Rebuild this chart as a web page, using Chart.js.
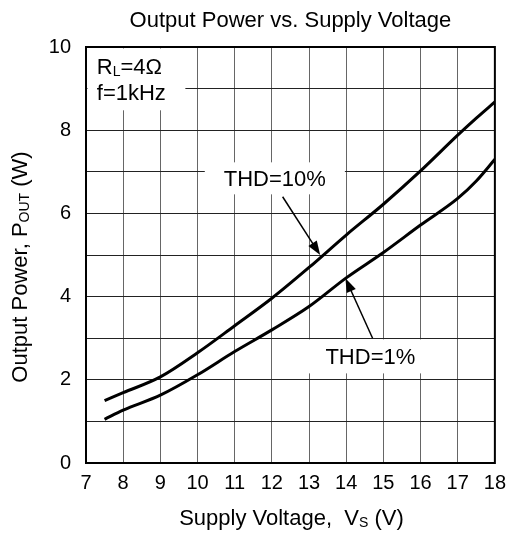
<!DOCTYPE html>
<html>
<head>
<meta charset="utf-8">
<script src="https://cdn.jsdelivr.net/npm/chart.js@4.4.0/dist/chart.umd.min.js"></script>
<style>
html, body { margin: 0; padding: 0; background: #fff; }
canvas { display: block; }
</style>
</head>
<body>
<canvas id="grafico" width="514" height="536"></canvas>
<script>
// Datos (Vs en V, Pout en W)
const voltaje = [7.5, 8, 9, 10, 11, 12, 13, 14, 15, 16, 17, 17.5, 18];
const potenciaThd10 = [1.5, 1.69, 2.07, 2.65, 3.3, 3.96, 4.7, 5.48, 6.22, 7.02, 7.88, 8.29, 8.68];
const potenciaThd1 = [1.05, 1.27, 1.63, 2.12, 2.68, 3.2, 3.76, 4.45, 5.06, 5.72, 6.36, 6.78, 7.3];
const ticksY = [0, 2, 4, 6, 8, 10];

const FUENTE = '"Liberation Sans", Arial, Helvetica, sans-serif';

// Escribe texto con subindices: partes = [[texto, esSubindice], ...]
function textoRico(ctx, partes, x, y, size, align) {
    const sub = Math.round(size * 0.62);
    const ancho = medir(ctx, partes, size);
    let cx = align === 'center' ? x - ancho / 2 : x;
    ctx.textAlign = 'left';
    ctx.textBaseline = 'alphabetic';
    partes.forEach(([t, s]) => {
        ctx.font = (s ? sub : size) + 'px ' + FUENTE;
        ctx.fillText(t, cx, s ? y + 2 : y);
        cx += ctx.measureText(t).width;
    });
}

function medir(ctx, partes, size) {
    const sub = Math.round(size * 0.62);
    let ancho = 0;
    partes.forEach(([t, s]) => {
        ctx.font = (s ? sub : size) + 'px ' + FUENTE;
        ancho += ctx.measureText(t).width;
    });
    return ancho;
}

function flecha(ctx, x1, y1, x2, y2) {
    const ang = Math.atan2(y2 - y1, x2 - x1);
    const largo = 14, medio = 5;
    ctx.strokeStyle = '#000';
    ctx.fillStyle = '#000';
    ctx.lineWidth = 1.5;
    ctx.beginPath();
    ctx.moveTo(x1, y1);
    ctx.lineTo(x2 - Math.cos(ang) * largo * 0.8, y2 - Math.sin(ang) * largo * 0.8);
    ctx.stroke();
    ctx.beginPath();
    ctx.moveTo(x2, y2);
    ctx.lineTo(x2 - Math.cos(ang) * largo - Math.sin(ang) * medio, y2 - Math.sin(ang) * largo + Math.cos(ang) * medio);
    ctx.lineTo(x2 - Math.cos(ang) * largo + Math.sin(ang) * medio, y2 - Math.sin(ang) * largo - Math.cos(ang) * medio);
    ctx.closePath();
    ctx.fill();
}

const TAM = 22;
const subCap = TAM * 0.358; // de medio de mayuscula a linea base

const anotaciones = {
    id: 'anotaciones',
    beforeDatasetsDraw(chart) {
        const { ctx, chartArea: a, scales: { x, y } } = chart;
        ctx.save();

        // Etiqueta RL / f (esquina superior izquierda)
        const rl = [['R', false], ['L', true], ['=4Ω', false]];
        const fr = [['f=1kHz', false]];
        const bx = x.getPixelForValue(7.29);
        const b1 = y.getPixelForValue(9.53) + subCap;
        const b2 = y.getPixelForValue(8.92) + subCap;
        const anchoRL = Math.max(medir(ctx, rl, TAM), medir(ctx, fr, TAM));
        ctx.fillStyle = '#fff';
        ctx.fillRect(a.left + 1.5, a.top + 1.5, bx + anchoRL + 18 - a.left, b2 + 9 - a.top);

        // Etiqueta THD=10%
        const t10 = [['THD=10%', false]];
        const c10x = x.getPixelForValue(12.08);
        const c10y = y.getPixelForValue(6.84) + subCap;
        const w10 = medir(ctx, t10, TAM);
        ctx.fillStyle = '#fff';
        ctx.fillRect(c10x - w10 / 2 - 19, c10y - 24, w10 + 38, 32);

        // Etiqueta THD=1%
        const t1 = [['THD=1%', false]];
        const c1x = x.getPixelForValue(14.65);
        const c1y = y.getPixelForValue(2.56) + subCap;
        const w1 = medir(ctx, t1, TAM);
        ctx.fillStyle = '#fff';
        ctx.fillRect(c1x - w1 / 2 - 19, c1y - 25, w1 + 38, 34);

        ctx.fillStyle = '#000';
        textoRico(ctx, rl, bx, b1, TAM, 'left');
        textoRico(ctx, fr, bx, b2, TAM, 'left');
        textoRico(ctx, t10, c10x, c10y, TAM, 'center');
        textoRico(ctx, t1, c1x, c1y, TAM, 'center');

        // Marco del area de trazado
        ctx.strokeStyle = '#000';
        ctx.lineWidth = 2;
        ctx.strokeRect(a.left, a.top, a.right - a.left, a.bottom - a.top);
        ctx.restore();
    },
    afterDatasetsDraw(chart) {
        const { ctx, scales: { x, y } } = chart;
        ctx.save();
        flecha(ctx, x.getPixelForValue(12.29), y.getPixelForValue(6.4),
                    x.getPixelForValue(13.3), y.getPixelForValue(5.0));
        flecha(ctx, x.getPixelForValue(14.71), y.getPixelForValue(3.0),
                    x.getPixelForValue(13.98), y.getPixelForValue(4.44));
        ctx.restore();
    },
    afterDraw(chart) {
        const { ctx, chartArea: a } = chart;
        const centro = (a.left + a.right) / 2;
        ctx.save();
        ctx.fillStyle = '#000';
        textoRico(ctx, [['Output Power vs. Supply Voltage', false]], centro, 26.5, 22, 'center');
        textoRico(ctx, [['Supply Voltage,  V', false], ['S', true], [' (V)', false]], centro + 1, 525, 22, 'center');
        ctx.translate(27, 267);
        ctx.rotate(-Math.PI / 2);
        textoRico(ctx, [['Output Power, P', false], ['OUT', true], [' (W)', false]], 0, 0, 22, 'center');
        ctx.restore();
    }
};

const ctx = document.getElementById('grafico').getContext('2d');
new Chart(ctx, {
    type: 'line',
    data: {
        labels: voltaje,
        datasets: [
            {
                label: 'THD=10%',
                data: voltaje.map((v, i) => ({ x: v, y: potenciaThd10[i] })),
                borderColor: '#000',
                borderWidth: 3,
                pointRadius: 0,
                fill: false,
                cubicInterpolationMode: 'monotone'
            },
            {
                label: 'THD=1%',
                data: voltaje.map((v, i) => ({ x: v, y: potenciaThd1[i] })),
                borderColor: '#000',
                borderWidth: 3,
                pointRadius: 0,
                fill: false,
                cubicInterpolationMode: 'monotone'
            }
        ]
    },
    options: {
        responsive: false,
        animation: false,
        layout: { padding: { top: 47, right: 12, left: 0, bottom: 0 } },
        plugins: {
            legend: { display: false },
            title: { display: false },
            tooltip: { enabled: false }
        },
        scales: {
            x: {
                type: 'linear',
                min: 7,
                max: 18,
                afterFit: s => { s.height = 73; },
                ticks: {
                    stepSize: 1,
                    color: '#000',
                    padding: 8,
                    maxRotation: 0,
                    autoSkip: false,
                    font: { family: FUENTE, size: 20 }
                },
                grid: { color: '#666', lineWidth: 1, drawTicks: false },
                border: { color: '#000', width: 2 }
            },
            y: {
                type: 'linear',
                min: 0,
                max: 10,
                afterFit: s => { s.width = 86; },
                ticks: {
                    stepSize: 1,
                    color: '#000',
                    padding: 15,
                    autoSkip: false,
                    font: { family: FUENTE, size: 20 },
                    callback: v => ticksY.includes(v) ? String(v) : ''
                },
                grid: { color: '#222', lineWidth: 1, drawTicks: false },
                border: { color: '#000', width: 2 }
            }
        }
    },
    plugins: [anotaciones]
});
</script>
</body>
</html>
